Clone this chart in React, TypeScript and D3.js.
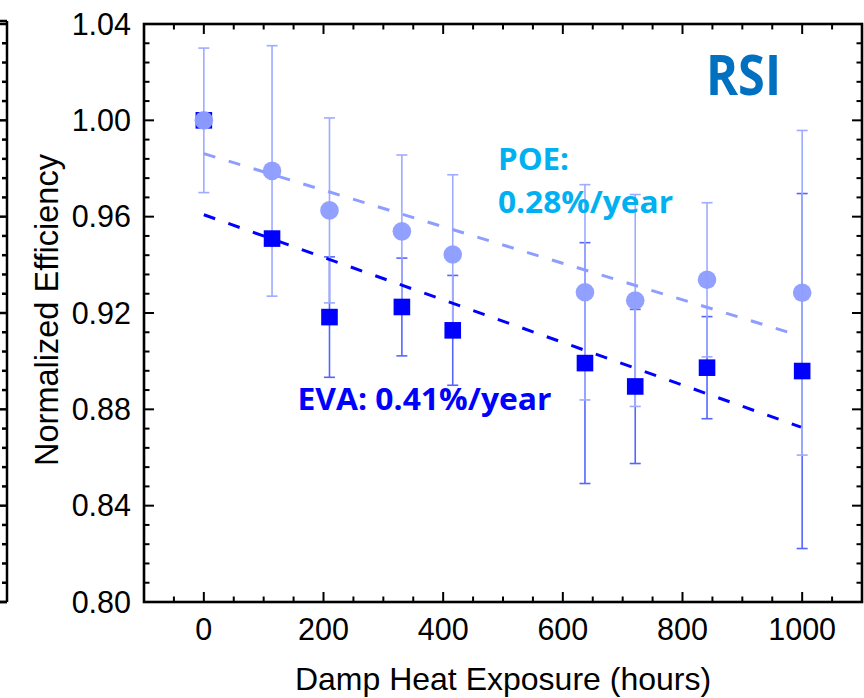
import React from "react";
import * as d3 from "d3";

const hours = [0, 114, 210, 331, 416, 637, 721, 841, 1000];
const poeValues = [1.0, 0.979, 0.9626, 0.9539, 0.9443, 0.9286, 0.9252, 0.9338, 0.9284];
const poeErrors = [0.03, 0.052, 0.0384, 0.0317, 0.0331, 0.0447, 0.044, 0.032, 0.0674];
const evaValues = [1.0, 0.9509, 0.9183, 0.9225, 0.9128, 0.8992, 0.8895, 0.8973, 0.8959];
const evaErrors = [0, 0, 0.025, 0.0203, 0.0228, 0.05, 0.032, 0.0212, 0.0737];

const poeFitX = [0, 980];
const poeFitY = [0.9862, 0.9118];
const evaFitX = [0, 998];
const evaFitY = [0.9608, 0.8726];

const xTickValues = [0, 200, 400, 600, 800, 1000];
const yTickValues = [0.8, 0.84, 0.88, 0.92, 0.96, 1.0, 1.04];

const W = 864;
const H = 698;
const L = 144, R = 862, T = 24, B = 602;

const POE_COLOR = "#8e9eff";
const POE_BAR = "#9eabff";
const EVA_COLOR = "#0000ff";
const EVA_BAR = "#5566ff";

export default function App() {
  const x = d3.scaleLinear().domain([-100, 1100]).range([L, R]);
  const y = d3.scaleLinear().domain([0.8, 1.04]).range([B, T]);

  const xMinor = d3.range(-100, 1101, 50);
  const yMinor = d3.range(0, 31).map((i) => 0.8 + i * 0.008);
  const isMajorX = (v: number) => Math.abs(v % 200) < 1e-6;
  const isMajorY = (v: number) => {
    const k = (v - 0.8) / 0.04;
    return Math.abs(k - Math.round(k)) < 1e-6;
  };

  const line = d3
    .line<[number, number]>()
    .x((d) => x(d[0]))
    .y((d) => y(d[1]));

  const poeFit: [number, number][] = poeFitX.map((v, i) => [v, poeFitY[i]]);
  const evaFit: [number, number][] = evaFitX.map((v, i) => [v, evaFitY[i]]);

  const axisFont = "'Liberation Sans', Arial, sans-serif";
  const boldFont = "'Open Sans', 'Noto Sans', sans-serif";
  const cap = 5.5;

  const errBar = (xi: number, v: number, e: number, color: string, key: string) => {
    if (e <= 0) return null;
    const cx = x(xi);
    const y1 = y(v + e);
    const y2 = y(v - e);
    return (
      <g key={key} stroke={color} strokeWidth={1.6}>
        <line x1={cx} x2={cx} y1={y1} y2={y2} />
        <line x1={cx - cap} x2={cx + cap} y1={y1} y2={y1} />
        <line x1={cx - cap} x2={cx + cap} y1={y2} y2={y2} />
      </g>
    );
  };

  return (
    <svg
      width={W}
      height={H}
      style={{ position: "absolute", left: 0, top: 0, background: "#fff" }}
    >
      <rect x={0} y={0} width={W} height={H} fill="#fff" />

      {/* partial neighbouring panel axis at far left */}
      <g stroke="#000" strokeWidth={2.5}>
        <line x1={7} x2={7} y1={21} y2={B} />
        <line x1={0} x2={7} y1={21} y2={21} />
        <line x1={0} x2={7} y1={B} y2={B} />
        {yMinor.map((v, i) => (
          <line key={"lp" + i} x1={isMajorY(v) ? 0 : 2} x2={7} y1={y(v)} y2={y(v)} />
        ))}
      </g>

      {/* error bars */}
      {hours.map((h, i) => errBar(h, evaValues[i], evaErrors[i], EVA_BAR, "eb" + i))}
      {hours.map((h, i) => errBar(h, poeValues[i], poeErrors[i], POE_BAR, "pb" + i))}

      {/* fit lines */}
      <path d={line(poeFit) || ""} fill="none" stroke={POE_COLOR} strokeWidth={3} strokeDasharray="12,14" />
      <path d={line(evaFit) || ""} fill="none" stroke={EVA_COLOR} strokeWidth={3} strokeDasharray="12,14" />

      {/* EVA squares */}
      {hours.map((h, i) => (
        <rect
          key={"sq" + i}
          x={x(h) - 8.3}
          y={y(evaValues[i]) - 8.3}
          width={16.6}
          height={16.6}
          fill={EVA_COLOR}
        />
      ))}
      {/* POE circles */}
      {hours.map((h, i) => (
        <circle key={"c" + i} cx={x(h)} cy={y(poeValues[i])} r={9.3} fill={POE_COLOR} fillOpacity={0.97} />
      ))}

      {/* frame */}
      <rect x={L} y={T} width={R - L} height={B - T} fill="none" stroke="#000" strokeWidth={2.6} />

      {/* ticks */}
      <g stroke="#000" strokeWidth={2}>
        {xMinor.map((v, i) => {
          const len = isMajorX(v) ? 10 : 5.5;
          return (
            <g key={"xt" + i}>
              <line x1={x(v)} x2={x(v)} y1={B} y2={B - len} />
              <line x1={x(v)} x2={x(v)} y1={T} y2={T + len} />
            </g>
          );
        })}
        {yMinor.map((v, i) => {
          const len = isMajorY(v) ? 10 : 5.5;
          return (
            <g key={"yt" + i}>
              <line x1={L} x2={L + len} y1={y(v)} y2={y(v)} />
              <line x1={R} x2={R - len} y1={y(v)} y2={y(v)} />
            </g>
          );
        })}
      </g>

      {/* tick labels */}
      <g fontFamily={axisFont} fontSize={30.5} fill="#000">
        {xTickValues.map((v) => (
          <text key={"xl" + v} x={x(v)} y={640} textAnchor="middle">
            {v}
          </text>
        ))}
        {yTickValues.map((v) => (
          <text key={"yl" + v} x={131} y={y(v) + 10.8} textAnchor="end">
            {v.toFixed(2)}
          </text>
        ))}
      </g>

      {/* axis titles */}
      <text
        x={(L + R) / 2}
        y={690}
        textAnchor="middle"
        fontFamily={axisFont}
        fontSize={32}
        fill="#000"
      >
        Damp Heat Exposure (hours)
      </text>
      <text
        transform={`translate(57.5,310) rotate(-90)`}
        textAnchor="middle"
        fontFamily={axisFont}
        fontSize={32.5}
        fill="#000"
      >
        Normalized Efficiency
      </text>

      {/* annotations */}
      <text x={706} y={95} fontFamily={boldFont} fontWeight={700} fontSize={56} fill="#0070c0" textLength={75} lengthAdjust="spacingAndGlyphs">
        RSI
      </text>
      <text x={498} y={170} fontFamily={boldFont} fontWeight={700} fontSize={31} fill="#00b0f0" textLength={71} lengthAdjust="spacingAndGlyphs">
        POE:
      </text>
      <text x={498} y={212.5} fontFamily={boldFont} fontWeight={700} fontSize={31} fill="#00b0f0" textLength={175} lengthAdjust="spacingAndGlyphs">
        0.28%/year
      </text>
      <text x={297.5} y={410} fontFamily={boldFont} fontWeight={700} fontSize={31} fill="#0000ff" textLength={254} lengthAdjust="spacingAndGlyphs">
        EVA: 0.41%/year
      </text>
    </svg>
  );
}
